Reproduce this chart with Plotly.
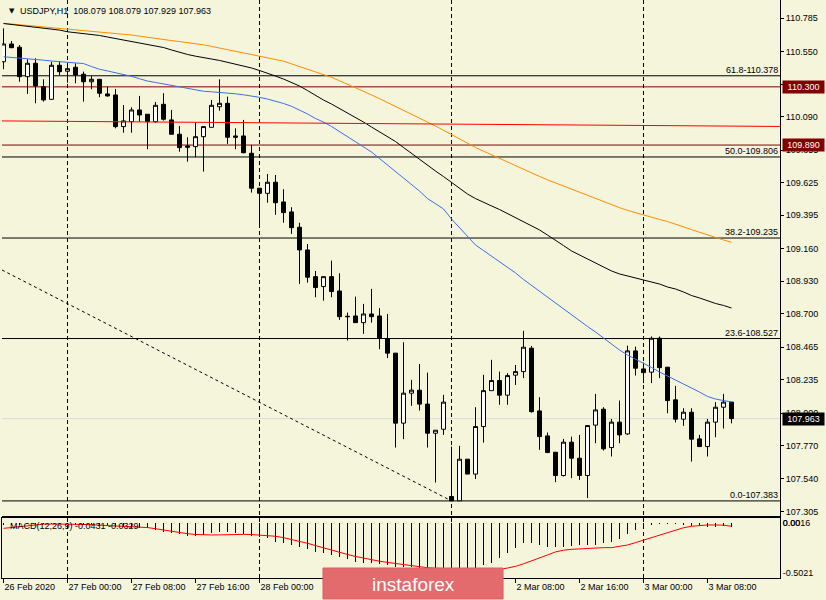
import plotly.graph_objects as go

# ---------------- data ----------------
bars = list(range(92))  # hourly bars, 26 Feb 16:00 ... 3 Mar 11:00

opens = [110.477, 110.602, 110.579, 110.372, 110.466, 110.301, 110.212, 110.452, 110.410, 110.438,
         110.389, 110.336, 110.353, 110.250, 110.243, 110.020, 110.055, 110.137, 110.107, 110.055,
         110.177, 110.067, 109.966, 109.884, 109.879, 109.949, 110.015, 110.160, 110.184, 109.954,
         109.954, 109.832, 109.586, 109.550, 109.628, 109.489, 109.419, 109.311, 109.151, 108.963,
         108.893, 108.963, 108.862, 108.684, 108.686, 108.639, 108.700, 108.686, 108.524, 108.424,
         107.931, 108.142, 108.163, 108.065, 107.860, 107.888, 107.414, 107.384, 107.677, 107.572,
         107.907, 108.160, 108.231, 108.128, 108.269, 108.294, 108.459, 108.017, 107.841, 107.726,
         107.562, 107.797, 107.684, 107.562, 107.917, 108.029, 107.759, 107.938, 107.855, 108.440,
         108.313, 108.290, 108.529, 108.325, 108.095, 107.959, 108.008, 107.820, 107.766, 107.938,
         108.043, 108.079]
highs = [110.712, 110.623, 110.595, 110.494, 110.501, 110.353, 110.477, 110.477, 110.470, 110.466,
         110.407, 110.377, 110.353, 110.301, 110.285, 110.172, 110.156, 110.236, 110.107, 110.193,
         110.255, 110.137, 110.024, 109.945, 110.048, 110.020, 110.208, 110.353, 110.231, 110.008,
         110.067, 109.891, 109.586, 109.686, 109.679, 109.579, 109.452, 109.343, 109.193, 109.003,
         108.963, 109.076, 108.987, 108.710, 108.822, 108.771, 108.877, 108.741, 108.700, 108.424,
         108.501, 108.236, 108.348, 108.287, 107.881, 108.130, 107.766, 107.771, 107.677, 108.043,
         108.271, 108.377, 108.294, 108.283, 108.341, 108.581, 108.475, 108.114, 107.865, 107.726,
         107.820, 107.836, 107.848, 107.914, 108.137, 108.043, 107.961, 108.090, 108.477, 108.470,
         108.358, 108.541, 108.541, 108.325, 108.193, 108.036, 108.036, 107.848, 107.961, 108.079,
         108.137, 108.079]
lows = [110.424, 110.572, 110.336, 110.250, 110.184, 110.196, 110.208, 110.384, 110.329, 110.325,
        110.196, 110.283, 110.227, 110.231, 110.008, 109.977, 109.977, 110.055, 109.860, 110.048,
        110.062, 109.966, 109.843, 109.773, 109.804, 109.703, 110.015, 110.132, 109.898, 109.860,
        109.832, 109.555, 109.320, 109.484, 109.398, 109.343, 109.264, 108.912, 108.921, 108.818,
        108.794, 108.818, 108.658, 108.513, 108.639, 108.560, 108.639, 108.452, 108.389, 107.759,
        107.818, 108.053, 108.020, 107.759, 107.513, 107.848, 107.383, 107.383, 107.572, 107.537,
        107.794, 108.160, 108.060, 108.060, 108.200, 108.248, 108.005, 107.743, 107.724, 107.515,
        107.555, 107.543, 107.531, 107.403, 107.790, 107.738, 107.696, 107.790, 107.848, 108.266,
        108.213, 108.213, 108.248, 108.001, 107.935, 107.912, 107.660, 107.762, 107.696, 107.832,
        107.893, 107.929]
closes = [110.602, 110.576, 110.372, 110.466, 110.306, 110.208, 110.452, 110.407, 110.428, 110.384,
          110.336, 110.353, 110.255, 110.236, 110.020, 110.060, 110.137, 110.102, 110.055, 110.170,
          110.072, 109.966, 109.872, 109.875, 109.949, 110.020, 110.170, 110.184, 109.945, 109.945,
          109.836, 109.586, 109.550, 109.628, 109.484, 109.414, 109.308, 109.151, 108.959, 108.886,
          108.963, 108.858, 108.681, 108.681, 108.639, 108.700, 108.681, 108.529, 108.424, 107.931,
          108.142, 108.163, 108.065, 107.860, 107.881, 108.079, 107.384, 107.677, 107.572, 107.907,
          108.160, 108.231, 108.128, 108.266, 108.294, 108.466, 108.012, 107.836, 107.724, 107.562,
          107.797, 107.684, 107.562, 107.914, 108.024, 107.750, 107.938, 107.848, 108.440, 108.318,
          108.287, 108.529, 108.322, 108.090, 107.959, 108.008, 107.818, 107.766, 107.938, 108.043,
          108.079, 107.963]

ma_blue = [110.512, 110.508, 110.502, 110.498, 110.493, 110.488, 110.482, 110.477, 110.473, 110.471,
           110.464, 110.443, 110.424, 110.412, 110.401, 110.388, 110.374, 110.357, 110.341, 110.331,
           110.320, 110.310, 110.299, 110.288, 110.278, 110.269, 110.265, 110.262, 110.257, 110.251,
           110.244, 110.236, 110.226, 110.214, 110.200, 110.183, 110.163, 110.137, 110.109, 110.077,
           110.052, 110.021, 109.985, 109.950, 109.915, 109.883, 109.841, 109.795, 109.749, 109.704,
           109.658, 109.612, 109.566, 109.513, 109.478, 109.440, 109.369, 109.306, 109.249, 109.186,
           109.147, 109.108, 109.070, 109.031, 108.989, 108.943, 108.901, 108.858, 108.820, 108.777,
           108.735, 108.693, 108.654, 108.612, 108.573, 108.531, 108.488, 108.446, 108.411, 108.383,
           108.355, 108.323, 108.291, 108.263, 108.238, 108.210, 108.182, 108.150, 108.119, 108.101,
           108.090, 108.080]
ma_black = [110.746, 110.740, 110.733, 110.725, 110.720, 110.716, 110.711, 110.700, 110.688, 110.682,
            110.677, 110.670, 110.662, 110.651, 110.641, 110.630, 110.619, 110.609, 110.598, 110.588,
            110.577, 110.560, 110.542, 110.528, 110.516, 110.508, 110.496, 110.486, 110.474, 110.461,
            110.447, 110.433, 110.415, 110.398, 110.376, 110.355, 110.331, 110.306, 110.274, 110.239,
            110.207, 110.179, 110.148, 110.116, 110.084, 110.052, 110.017, 109.982, 109.950, 109.915,
            109.873, 109.830, 109.788, 109.746, 109.707, 109.668, 109.626, 109.584, 109.545, 109.513,
            109.485, 109.461, 109.436, 109.408, 109.380, 109.351, 109.323, 109.292, 109.256, 109.221,
            109.182, 109.144, 109.115, 109.087, 109.059, 109.027, 109.003, 108.982, 108.968, 108.953,
            108.943, 108.929, 108.911, 108.890, 108.876, 108.855, 108.830, 108.813, 108.791, 108.774,
            108.760, 108.742]
ma_orange = [110.748, 110.743, 110.738, 110.733, 110.728, 110.723, 110.718, 110.713, 110.708, 110.703,
             110.698, 110.693, 110.689, 110.683, 110.677, 110.672, 110.665, 110.657, 110.648, 110.640,
             110.633, 110.626, 110.619, 110.612, 110.605, 110.596, 110.585, 110.574, 110.562, 110.550,
             110.540, 110.529, 110.518, 110.506, 110.494, 110.481, 110.462, 110.443, 110.426, 110.407,
             110.391, 110.367, 110.343, 110.319, 110.292, 110.267, 110.243, 110.217, 110.190, 110.164,
             110.136, 110.109, 110.081, 110.052, 110.024, 109.994, 109.964, 109.933, 109.901, 109.873,
             109.847, 109.821, 109.796, 109.771, 109.746, 109.720, 109.695, 109.669, 109.645, 109.623,
             109.599, 109.577, 109.556, 109.533, 109.511, 109.489, 109.468, 109.449, 109.430, 109.413,
             109.397, 109.382, 109.366, 109.351, 109.334, 109.314, 109.294, 109.275, 109.255, 109.237,
             109.221, 109.205]

macd_hist = [-0.020, -0.016, -0.012, -0.010, -0.008, -0.006, -0.005, -0.006, -0.010, -0.014,
             -0.018, -0.022, -0.026, -0.030, -0.036, -0.042, -0.047, -0.050,
             -0.054, -0.071, -0.088, -0.104, -0.111, -0.131, -0.131, -0.121, -0.104, -0.088,
             -0.088, -0.104, -0.111, -0.131, -0.138, -0.155, -0.189, -0.205, -0.222, -0.239,
             -0.266, -0.290, -0.306, -0.323, -0.340, -0.367, -0.391, -0.407, -0.407, -0.414,
             -0.424, -0.441, -0.448, -0.448,
             -0.458, -0.472, -0.486, -0.495, -0.502, -0.496, -0.482, -0.458,
             -0.424, -0.401, -0.357, -0.306, -0.256, -0.205, -0.205, -0.222, -0.239, -0.246,
             -0.239, -0.232, -0.222, -0.222, -0.222, -0.205, -0.189, -0.165, -0.111, -0.071,
             -0.040, -0.015, -0.004, -0.004, -0.004, -0.020, -0.030, -0.030, -0.045, -0.040,
             -0.035, -0.043]
macd_signal = [-0.054, -0.045, -0.035, -0.025, -0.018, -0.012, -0.010, -0.010, -0.010, -0.012,
               -0.015, -0.018, -0.022, -0.025, -0.030, -0.034, -0.038, -0.042,
               -0.046, -0.058, -0.072, -0.086, -0.098, -0.108, -0.116, -0.120, -0.121, -0.120,
               -0.117, -0.115, -0.115, -0.117, -0.121, -0.126, -0.134, -0.148, -0.165, -0.185,
               -0.205, -0.228, -0.252, -0.276, -0.298, -0.318, -0.338, -0.356, -0.372, -0.386,
               -0.398, -0.410, -0.422, -0.434,
               -0.446, -0.452, -0.457, -0.461, -0.465, -0.468, -0.470, -0.470, -0.470, -0.470,
               -0.468,
               -0.455, -0.438, -0.412, -0.385, -0.352, -0.323, -0.292, -0.275, -0.266, -0.260,
               -0.255, -0.250, -0.249, -0.249, -0.238, -0.222, -0.198, -0.172, -0.147, -0.122,
               -0.097, -0.073, -0.048, -0.033, -0.023, -0.020, -0.020, -0.022, -0.033]

fib_levels = [110.378, 109.806, 109.235, 108.527, 107.383]
fib_labels = ["61.8-110.378", "50.0-109.806", "38.2-109.235", "23.6-108.527", "0.0-107.383"]
level_lines = [110.300, 109.890]
level_labels = ["110.300", "109.890"]
red_trend_x = [-0.19, 97.06]
red_trend_y = [110.060, 110.021]
fib_trend_x = [-0.19, 56]
fib_trend_y = [109.010, 107.383]
day_separators = [8, 32, 56, 80]
last_price = 107.963

x_tick_bars = [0, 8, 16, 24, 32, 40, 48, 56, 64, 72, 80, 88]
x_tick_labels = ["26 Feb 2020", "27 Feb 00:00", "27 Feb 08:00", "27 Feb 16:00", "28 Feb 00:00",
                 "28 Feb 08:00", "28 Feb 16:00", "2 Mar 00:00", "2 Mar 08:00", "2 Mar 16:00",
                 "3 Mar 00:00", "3 Mar 08:00"]
y_ticks = [110.785, 110.550, 110.320, 110.090, 109.855, 109.625, 109.395, 109.160,
           108.930, 108.700, 108.465, 108.235, 108.000, 107.770, 107.540, 107.305]
macd_ticks = [0.0016, 0.0, -0.5021]
macd_tick_labels = ["0.0016", "0.00", "-0.5021"]

title_text = "USDJPY,H1\u00a0\u00a0108.079 108.079 107.929 107.963"
macd_text = "MACD(12,26,9) -0.0431 -0.0329"

# ---------------- style ----------------
BG = "#f5f5dc"
FONT = "Liberation Sans, Arial, sans-serif"
FS = 9

fig = go.Figure()

fig.add_trace(go.Candlestick(
    x=bars, open=opens, high=highs, low=lows, close=closes,
    increasing=dict(line=dict(color="black", width=1), fillcolor="white"),
    decreasing=dict(line=dict(color="black", width=1), fillcolor="black"),
    whiskerwidth=0, xaxis="x", yaxis="y", showlegend=False, hoverinfo="skip"))

for vals, col in [(ma_orange, "#ff8c00"), (ma_black, "black"), (ma_blue, "#3d6fe8")]:
    fig.add_trace(go.Scatter(x=bars, y=vals, mode="lines", line=dict(color=col, width=1),
                             xaxis="x", yaxis="y", showlegend=False, hoverinfo="skip"))

fig.add_trace(go.Bar(x=bars, y=macd_hist, width=0.125, marker=dict(color="black", line=dict(width=0)),
                     xaxis="x2", yaxis="y2", showlegend=False, hoverinfo="skip"))
fig.add_trace(go.Scatter(x=bars, y=macd_signal, mode="lines", line=dict(color="red", width=1),
                         xaxis="x2", yaxis="y2", showlegend=False, hoverinfo="skip"))

# objects on the chart
fig.add_trace(go.Scatter(x=red_trend_x, y=red_trend_y, mode="lines", line=dict(color="red", width=1),
                         xaxis="x", yaxis="y", showlegend=False, hoverinfo="skip"))
fig.add_trace(go.Scatter(x=fib_trend_x, y=fib_trend_y, mode="lines",
                         line=dict(color="black", width=1, dash="3px,3px"),
                         xaxis="x", yaxis="y", showlegend=False, hoverinfo="skip"))

shapes = []
for lv in fib_levels:
    shapes.append(dict(type="line", xref="paper", x0=0, x1=1, yref="y", y0=lv, y1=lv,
                       line=dict(color="black", width=1), layer="below"))
for lv in level_lines:
    shapes.append(dict(type="line", xref="paper", x0=0, x1=1, yref="y", y0=lv, y1=lv,
                       line=dict(color="#800000", width=1), layer="below"))
shapes.append(dict(type="line", xref="paper", x0=0, x1=1, yref="y", y0=last_price, y1=last_price,
                   line=dict(color="#d9d9e0", width=1), layer="below"))
for b in day_separators:
    shapes.append(dict(type="line", xref="x", x0=b, x1=b, yref="paper", y0=0, y1=1,
                       line=dict(color="black", width=1, dash="4px,3px"), layer="below"))
# instaforex badge
shapes.append(dict(type="rect", xref="paper", yref="paper", x0=0.4126, x1=0.6440, y0=-0.0363, y1=0.0173,
                   fillcolor="#e36a6d", line=dict(color="#d85f62", width=1), layer="above"))

annotations = []
for lv, txt in zip(fib_levels, fib_labels):
    annotations.append(dict(xref="paper", x=1, xanchor="right", xshift=-1, yref="y", y=lv,
                            yanchor="bottom", text=txt, showarrow=False, borderpad=0,
                            font=dict(family=FONT, size=FS, color="black")))
for lv, txt in zip(level_lines, level_labels):
    annotations.append(dict(xref="paper", x=1, xanchor="left", xshift=2, yref="y", y=lv,
                            yanchor="middle", text=txt, showarrow=False, bgcolor="#800000",
                            width=39, borderpad=1, font=dict(family=FONT, size=FS, color="white")))
annotations.append(dict(xref="paper", x=1, xanchor="left", xshift=2, yref="y", y=last_price,
                        yanchor="middle", text=f"{last_price:.3f}", showarrow=False, bgcolor="black",
                        width=39, borderpad=1, font=dict(family=FONT, size=FS, color="white")))
annotations.append(dict(xref="paper", x=0.0065, xanchor="left", yref="paper", y=0.981, yanchor="middle",
                        text="\u25bc", showarrow=False, font=dict(family="DejaVu Sans", size=7, color="black")))
annotations.append(dict(xref="paper", x=0.0206, xanchor="left", yref="paper", y=0.981, yanchor="middle",
                        text=title_text, showarrow=False, font=dict(family=FONT, size=FS, color="black")))
annotations.append(dict(xref="paper", x=0.0077, xanchor="left", yref="paper", y=0.090, yanchor="middle",
                        text=macd_text, showarrow=False, font=dict(family=FONT, size=FS, color="black")))
annotations.append(dict(xref="paper", x=0.5283, xanchor="center", yref="paper", y=-0.0104, yanchor="middle",
                        text="instaforex", showarrow=False, font=dict(family=FONT, size=19, color="white")))

axis_common = dict(showgrid=False, zeroline=False, linecolor="black", linewidth=1,
                   tickfont=dict(family=FONT, size=FS, color="black"), tickcolor="black")

fig.update_layout(
    width=826, height=600,
    margin=dict(l=2, r=46, t=0, b=22),
    paper_bgcolor=BG, plot_bgcolor=BG,
    showlegend=False, hovermode=False,
    boxgap=0.5, boxgroupgap=0,
    bargap=0,
    xaxis=dict(domain=[0, 1], anchor="y", range=[-0.1875, 97.0625], showticklabels=False,
               ticks="", showline=True, mirror=False, rangeslider=dict(visible=False), **axis_common),
    yaxis=dict(domain=[0.10727, 1], anchor="x", side="right", range=[107.2768, 110.9118],
               tickvals=y_ticks, ticktext=[f"{v:.3f}" for v in y_ticks], ticks="outside", ticklen=3,
               showline=True, mirror=False, **axis_common),
    xaxis2=dict(domain=[0, 1], anchor="y2", range=[-0.1875, 97.0625], matches="x",
                tickvals=x_tick_bars, ticktext=x_tick_labels, ticks="outside", ticklen=4,
                ticklabelposition="outside right", showline=True, mirror=True, **axis_common),
    yaxis2=dict(domain=[0, 0.10381], anchor="x2", side="right", range=[-0.5556, 0.0505],
                tickvals=macd_ticks, ticktext=macd_tick_labels, ticks="", showline=True, mirror=True,
                **axis_common),
    shapes=shapes, annotations=annotations,
)

fig.write_html("out.html")
